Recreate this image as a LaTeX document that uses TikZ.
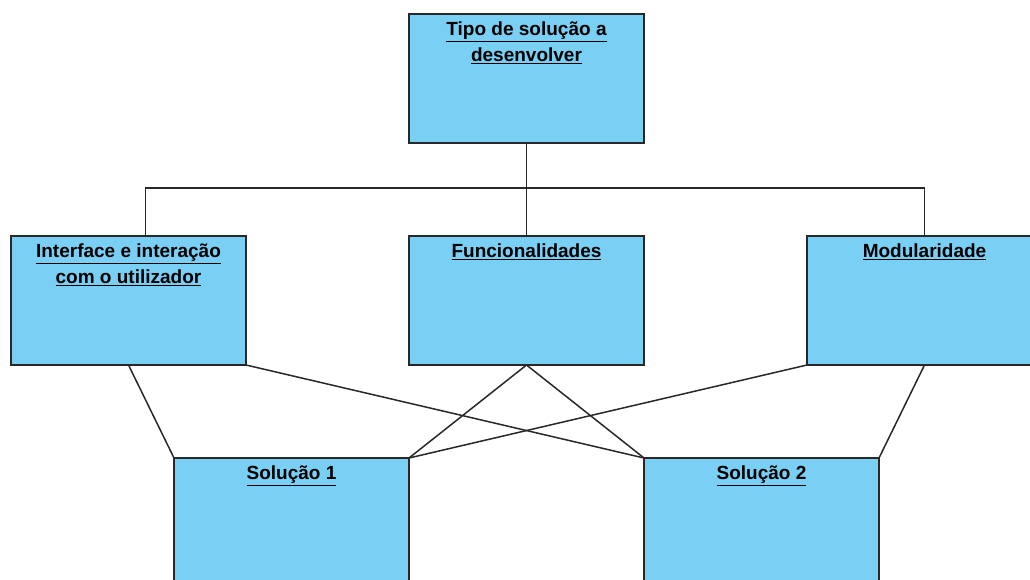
\documentclass[tikz,border=0pt]{standalone}
\usepackage{fontspec}
\setmainfont{Liberation Sans}
\definecolor{boxblue}{RGB}{122,207,244}
\definecolor{edge}{RGB}{40,40,40}
\begin{document}
\begin{tikzpicture}[x=1pt,y=-1pt,
  card/.style={draw=edge,line width=1.4pt,fill=boxblue,anchor=north west,
    minimum width=235pt,minimum height=129pt,inner sep=0pt,outer sep=0pt},
  heading/.style={anchor=north,align=center,inner sep=0pt,
    font=\fontsize{19}{26}\selectfont\bfseries},
  link/.style={draw=edge,line width=1.5pt}]
\useasboundingbox (0,0) rectangle (1030,579);
\clip (0,0) rectangle (1030,579);

% boxes
\node[card] (top)   at (409,14)  {};
\node[card] (iface) at (11,236)  {};
\node[card] (func)  at (409,236) {};
\node[card] (modu)  at (807,236) {};
\node[card] (sol1)  at (174,458) {};
\node[card] (sol2)  at (644,458) {};

% titles
\node[heading] (ttop)   at ([yshift=-8pt]top.north)   {\underline{Tipo de solução a}\\\underline{desenvolver}};
\node[heading] (tiface) at ([yshift=-8pt]iface.north) {\underline{Interface e interação}\\\underline{com o utilizador}};
\node[heading] (tfunc)  at ([yshift=-8pt]func.north)  {\underline{Funcionalidades}};
\node[heading] (tmodu)  at ([yshift=-8pt]modu.north)  {\underline{Modularidade}};
\node[heading] (tsol1)  at ([yshift=-8pt]sol1.north)  {\underline{Solução 1}};
\node[heading] (tsol2)  at ([yshift=-8pt]sol2.north)  {\underline{Solução 2}};

% tree from the top box
\coordinate (bus) at (527,188);
\coordinate (ifacein) at ([xshift=17pt]iface.north);
\draw[link] (top.south) -- (func.north);
\draw[link] (ifacein) |- (bus) -| (modu.north);

% links to the solutions
\draw[link] (iface.south) -- (sol1.north west);
\draw[link] (iface.south east) -- (sol2.north west);
\draw[link] (func.south) -- (sol1.north east);
\draw[link] (func.south) -- (sol2.north west);
\draw[link] (modu.south west) -- (sol1.north east);
\draw[link] (modu.south) -- (sol2.north east);
\end{tikzpicture}
\end{document}
